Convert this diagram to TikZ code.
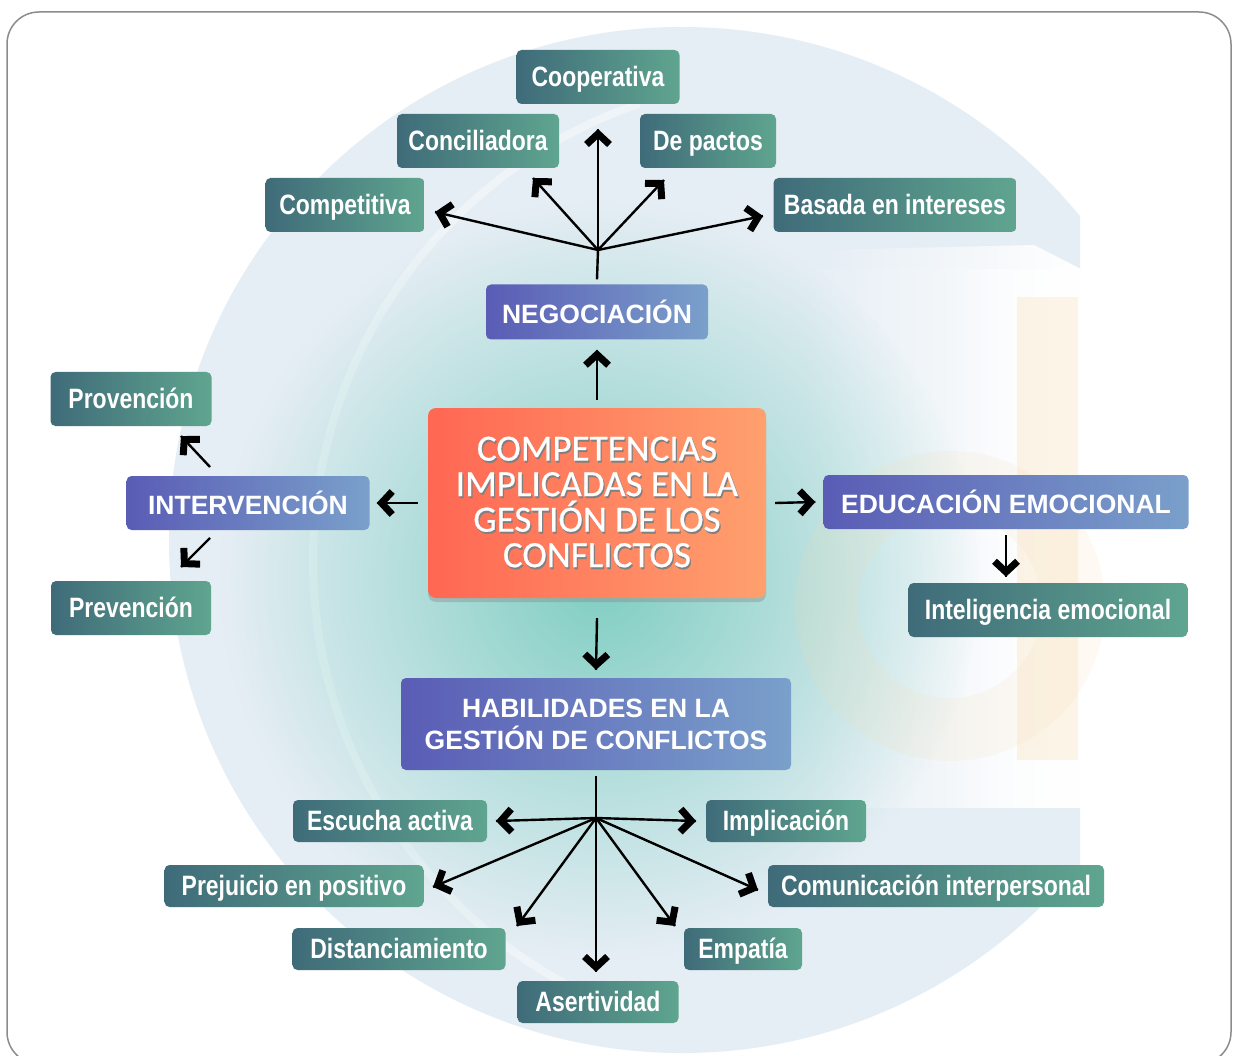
\documentclass[tikz,border=0pt]{standalone}
\usepackage{fontspec}
\setmainfont{Liberation Sans}
\newfontfamily\condfont[FakeStretch=0.82]{Liberation Sans}
\newfontfamily\ctrfont[FakeBold=0.6]{Carlito}
\usetikzlibrary{shadows,fadings,decorations.markings}

\definecolor{pale}{HTML}{E6EEF5}
\definecolor{ringc}{HTML}{EEF4F8}
\definecolor{glow}{HTML}{80CEC2}
\definecolor{dcol}{HTML}{F8DDB0}
\definecolor{tealL}{HTML}{3F6B79}
\definecolor{tealR}{HTML}{5FA58F}
\definecolor{purL}{HTML}{5A5CB5}
\definecolor{purR}{HTML}{7AA0CB}
\definecolor{ctrL}{HTML}{FF6753}
\definecolor{ctrR}{HTML}{FFA06E}

\tikzfading[name=radfade, inner color=transparent!0, outer color=transparent!100]
\tikzfading[name=hfade, left color=transparent!100, right color=transparent!0]

\newcommand\shd[1]{\makebox[0pt][l]{\textcolor{black!50}{\raisebox{-2pt}{\kern1.2pt #1}}}#1}

\tikzset{
  tealbox/.style={rounded corners=5pt, left color=tealL, right color=tealR,
    text=white, font=\condfont\bfseries\fontsize{28}{32}\selectfont,
    inner sep=0pt, text height=19pt, text depth=0pt, minimum height=54pt},
  tealsm/.style={tealbox, minimum height=42pt},
  purpbox/.style={rounded corners=5pt, left color=purL, right color=purR,
    text=white, font=\bfseries\fontsize{26.5}{32}\selectfont,
    inner sep=0pt, minimum height=55pt},
  ctrbox/.style={rounded corners=8pt, left color=ctrL, right color=ctrR,
    text=white, font=\ctrfont\fontsize{37}{35.5}\selectfont, align=center,
    inner sep=0pt, minimum width=338pt, minimum height=190pt,
    drop shadow={shadow xshift=0pt, shadow yshift=-4pt, opacity=0.35}},
  stem/.style={line width=2.4pt, black},
  myarr/.style={stem, postaction={decorate}, decoration={markings,
    mark=at position 1 with {\draw[black, line width=7pt, line join=miter,
      line cap=butt] (-15.5pt,11.5pt) -- (-4.8pt,0pt) -- (-15.5pt,-11.5pt);}}}
}

\begin{document}
\begin{tikzpicture}[x=1pt,y=-1pt]
\useasboundingbox (0,0) rectangle (1234,1056);
\fill[white] (0,0) rectangle (1234,1056);

% background "c"
\begin{scope}
  \clip (0,0) rectangle (1080,1056);
  \fill[pale] (682,540) circle (513pt);
\end{scope}
\begin{scope}
  \clip (0,0) rectangle (640,1056);
  \draw[ringc, line width=8pt] (795,560) circle (482pt);
\end{scope}
% white opening of the c
\fill[white, path fading=hfade] (800,269) -- (1080,269) -- (1080,808) -- (800,808) -- cycle;
\fill[white, path fading=hfade] (940,269) -- (1081,269) -- (1081,808) -- (940,808) -- cycle;
\fill[white, path fading=hfade] (820,250) -- (1034,245) -- (1081,269) -- (820,269) -- cycle;
% teal glow
\fill[glow, path fading=radfade] (600,580) circle (380pt);
% faint "d"
\fill[dcol, opacity=0.14, even odd rule] (950,606) circle (155pt) (950,606) circle (92pt);
\fill[dcol, opacity=0.3] (1017,297) rectangle (1078,760);

% nodes
\node[tealbox, minimum width=163pt] (coop) at (598,77) {Cooperativa};
\node[tealbox, minimum width=162pt] (conc) at (478,141) {Conciliadora};
\node[tealbox, minimum width=136pt] (pact) at (708,141) {De pactos};
\node[tealbox, minimum width=159pt] (comp) at (345,205) {Competitiva};
\node[tealbox, minimum width=243pt] (basa) at (895,205) {Basada en intereses};
\node[purpbox, minimum width=222pt] (nego) at (597,312) {NEGOCIACIÓN};

\node[ctrbox] (ctr) at (597,503)
  {\shd{COMPETENCIAS}\\\shd{IMPLICADAS EN LA}\\\shd{GESTIÓN DE LOS}\\\shd{CONFLICTOS}};

\node[purpbox, minimum width=243pt, minimum height=54pt] (inter) at (248,503) {INTERVENCIÓN};
\node[tealbox, minimum width=161pt] (prov) at (131,399) {Provención};
\node[tealbox, minimum width=160pt] (prev) at (131,608) {Prevención};

\node[purpbox, minimum width=365pt, minimum height=54pt] (edu) at (1006,502) {EDUCACIÓN EMOCIONAL};
\node[tealbox, minimum width=279pt] (intel) at (1048,610) {Inteligencia emocional};

\node[purpbox, minimum width=390pt, minimum height=92pt, align=center,
  font=\bfseries\fontsize{26.5}{32}\selectfont] (habi) at (596,724)
  {HABILIDADES EN LA\\GESTIÓN DE CONFLICTOS};

\node[tealsm, minimum width=194pt] (escu) at (390,821) {Escucha activa};
\node[tealsm, minimum width=160pt] (impl) at (786,821) {Implicación};
\node[tealsm, minimum width=259pt] (prej) at (294,886) {Prejuicio en positivo};
\node[tealsm, minimum width=336pt] (comu) at (936,886) {Comunicación interpersonal};
\node[tealsm, minimum width=213pt] (dist) at (399,949) {Distanciamiento};
\node[tealsm, minimum width=118pt] (empa) at (743,949) {Empatía};
\node[tealsm, minimum width=161pt] (aser) at (598,1002) {Asertividad};

% connector coordinates
\coordinate (nh) at (598,250);
\coordinate (tCoop) at (598,129);
\coordinate (tConc) at (533,178);
\coordinate (tPact) at (664,180);
\coordinate (tComp) at (435,212);
\coordinate (tBasa) at (763,216);

\coordinate (hh) at (596,818);
\coordinate (tEscu) at (496,821);
\coordinate (tImpl) at (696,821);
\coordinate (tPrej) at (433,887);
\coordinate (tComu) at (758,890);
\coordinate (tDist) at (517,926);
\coordinate (tEmpa) at (675,926);
\coordinate (tAser) at (596,972);

\coordinate (iPu) at (210,467);
\coordinate (tProv) at (181,436);
\coordinate (iPd) at (210,538);
\coordinate (tPrev) at (181,567);

% top fan
\draw[stem] ([yshift=5pt]nego.north) -- (nh);
\draw[myarr] (nh) -- (tCoop);
\draw[myarr] (nh) -- (tConc);
\draw[myarr] (nh) -- (tPact);
\draw[myarr] (nh) -- (tComp);
\draw[myarr] (nh) -- (tBasa);

% center arrows
\draw[myarr] ([yshift=8pt]ctr.north) -- ([yshift=-10pt]nego.south);
\draw[myarr] ([xshift=-10pt]ctr.west) -- ([xshift=7pt]inter.east);
\draw[myarr] ([xshift=9pt]ctr.east) -- ([xshift=-8pt]edu.west);
\draw[myarr] ([yshift=-20pt]ctr.south) -- ([yshift=8pt]habi.north);

% side arrows
\draw[myarr] (iPu) -- (tProv);
\draw[myarr] (iPd) -- (tPrev);
\draw[myarr] ([yshift=-6pt]edu.south) -- ([yshift=6pt]intel.north -| edu.south);

% bottom fan
\draw[stem] ([yshift=-6pt]habi.south) -- (hh);
\draw[myarr] (hh) -- (tEscu);
\draw[myarr] (hh) -- (tImpl);
\draw[myarr] (hh) -- (tPrej);
\draw[myarr] (hh) -- (tComu);
\draw[myarr] (hh) -- (tDist);
\draw[myarr] (hh) -- (tEmpa);
\draw[myarr] (hh) -- (tAser);

% frame
\draw[black!45, line width=1.5pt, rounded corners=32pt] (7,12) rectangle (1231,1064);
\end{tikzpicture}
\end{document}
